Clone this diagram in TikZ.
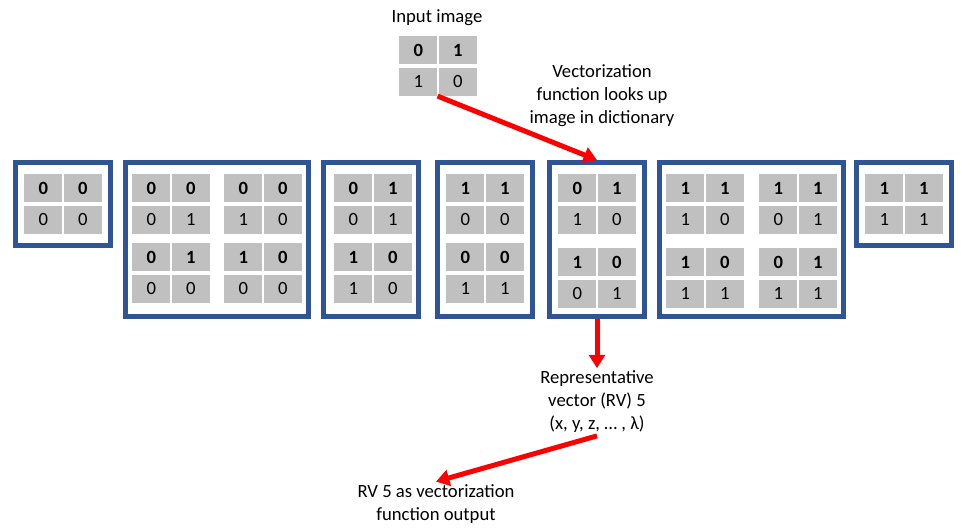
\documentclass[tikz,border=0pt]{standalone}
\usepackage{fontspec}
\setmainfont{Carlito}
\usetikzlibrary{arrows.meta,positioning}
\definecolor{frameblue}{RGB}{47,85,151}
\definecolor{cellgray}{RGB}{192,192,192}
\definecolor{arrred}{RGB}{255,0,0}

\begin{document}
\begin{tikzpicture}[x=0.75pt, y=-0.75pt,
  cell/.style={fill=cellgray, minimum width=28.5pt, minimum height=21pt, inner sep=0pt, anchor=north west, font=\fontsize{14}{16}\selectfont},
  frame/.style={draw=frameblue, line width=3.75pt, inner sep=0pt},
  label/.style={align=center, inner sep=2pt, font=\fontsize{14}{17.25}\selectfont},
  redarr/.style={-{Triangle[length=10pt, width=12pt]}, draw=arrred, line width=3.75pt},
]
  \useasboundingbox (0,0) rectangle (964,531);

  % dictionary frames
  \node[frame, minimum width=71.25pt, minimum height=62.25pt] (f1) at (63,204) {};
  \node[frame, minimum width=137.25pt, minimum height=115.5pt] (f2) at (217,239.5) {};
  \node[frame, minimum width=71.25pt, minimum height=115.5pt] (f3) at (371,239.5) {};
  \node[frame, minimum width=71.25pt, minimum height=115.5pt] (f4) at (485,239.5) {};
  \node[frame, minimum width=71.25pt, minimum height=115.5pt] (f5) at (597,239.5) {};
  \node[frame, minimum width=138pt, minimum height=115.5pt] (f6) at (751.5,239.5) {};
  \node[frame, minimum width=71.25pt, minimum height=62.25pt] (f7) at (904,204) {};

  % 2x2 images, top row bold
  \foreach \g/\x/\y/\a/\b/\c/\d in {
      gin/399/36/0/1/1/0,
      g1/24/174/0/0/0/0,
      g2a/132/174/0/0/0/1, g2b/224/174/0/0/1/0, g2c/132/243/0/1/0/0, g2d/224/243/1/0/0/0,
      g3a/334/174/0/1/0/1, g3b/334/243/1/0/1/0,
      g4a/446/174/1/1/0/0, g4b/446/243/0/0/1/1,
      g5a/558/174/0/1/1/0, g5b/558/248/1/0/0/1,
      g6a/666/174/1/1/1/0, g6b/759/174/1/1/0/1, g6c/666/248/1/0/1/1, g6d/759/248/0/1/1/1,
      g7/865/174/1/1/1/1} {
    \node[cell] (\g-1) at (\x,\y) {\textbf{\a}};
    \node[cell, right=0.75pt of \g-1] (\g-2) {\textbf{\b}};
    \node[cell, below=2.25pt of \g-1] (\g-3) {\c};
    \node[cell, right=0.75pt of \g-3] (\g-4) {\d};
  }

  \node[label] (inp) at (437,18) {Input image};
  \node[label] (look) at (602,96) {Vectorization\\function looks up\\image in dictionary};
  \node[label] (rv) at (597,402) {Representative\\vector (RV) 5\\(x, y, z, … , λ)};
  \node[label] (out) at (436,504) {RV 5 as vectorization\\function output};

  \draw[redarr] (gin-3.south east) -- (f5.north);
  \draw[redarr] (f5.south) -- (rv.north);
  \draw[redarr] (rv.south) -- (out.north);
\end{tikzpicture}
\end{document}
